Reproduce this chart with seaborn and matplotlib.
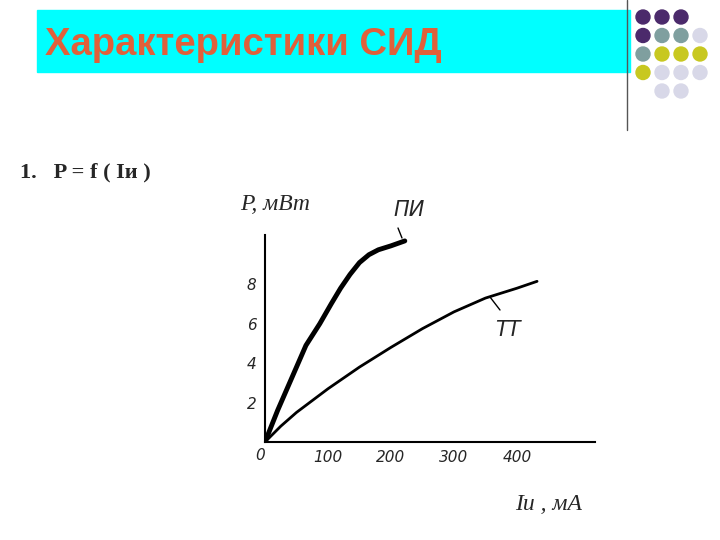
import matplotlib
matplotlib.use("Agg")
import matplotlib.pyplot as plt
import seaborn as sns
import pandas as pd
from matplotlib.patches import Rectangle, Circle

sns.set_style("white")
plt.rcParams['font.family'] = ['DejaVu Sans']

pi_I = [0, 10, 20, 35, 50, 65, 87, 105, 120, 135, 150, 165, 180, 200, 222]
pi_P = [0, 0.8, 1.6, 2.7, 3.8, 4.9, 6.0, 7.0, 7.8, 8.5, 9.1, 9.5, 9.75, 9.95, 10.2]
tt_I = [0, 25, 50, 75, 100, 150, 200, 250, 300, 350, 400, 432]
tt_P = [0, 0.8, 1.5, 2.1, 2.7, 3.8, 4.8, 5.75, 6.6, 7.3, 7.8, 8.15]
x_ticks = [100, 200, 300, 400]
x_labels = ["100", "200", "300", "400"]
y_ticks = [2, 4, 6, 8]
y_labels = ["2", "4", "6", "8"]

W, H = 720, 540
fig = plt.figure(figsize=(7.2, 5.4), dpi=100)
bg = fig.add_axes([0, 0, 1, 1])
bg.set_xlim(0, W); bg.set_ylim(H, 0); bg.axis("off")
bg.add_patch(Rectangle((37, 10), 593, 62, color="#00ffff"))
bg.text(45, 45, "Характеристики СИД", color="#e0603a", fontsize=27.5, fontweight="bold",
        family="Liberation Sans", va="center")
bg.plot([627, 627], [0, 130], color="#555555", lw=1)
grid = [["#4b2a6b", "#4b2a6b", "#4b2a6b", None],
        ["#4b2a6b", "#7f9f9f", "#7f9f9f", "#d8d8e8"],
        ["#7f9f9f", "#c8c820", "#c8c820", "#c8c820"],
        ["#c8c820", "#d8d8e8", "#d8d8e8", "#d8d8e8"],
        [None, "#d8d8e8", "#d8d8e8", None]]
for r, row in enumerate(grid):
    for c, col in enumerate(row):
        if col:
            bg.add_patch(Circle((643 + c * 19, 17 + r * 18.5), 7, color=col))
bg.text(20, 172, "1.   P = f ( Iи )", fontsize=16, fontweight="bold", family="Liberation Serif", va="center")
bg.text(240, 205, "P, мВт", fontsize=17, style="italic", family="Liberation Serif", va="center")
bg.text(393, 210, "ПИ", fontsize=15, style="italic", va="center")
bg.plot([398, 402], [228, 238], color="black", lw=1)
bg.text(495, 330, "ТТ", fontsize=15, style="italic", va="center")
bg.plot([490, 500], [297, 310], color="black", lw=1)
bg.text(515, 505, "Iи , мА", fontsize=17, style="italic", family="Liberation Serif", va="center")
bg.text(255, 455, "0", fontsize=11, style="italic", va="center")

ax = fig.add_axes([265 / W, (H - 442) / H, 330 / W, 207 / H])
ax.patch.set_alpha(0)
df1 = pd.DataFrame({"I": pi_I, "P": pi_P})
df2 = pd.DataFrame({"I": tt_I, "P": tt_P})
sns.lineplot(data=df1, x="I", y="P", ax=ax, color="black", lw=3.5)
sns.lineplot(data=df2, x="I", y="P", ax=ax, color="black", lw=2)
ax.set_xlim(0, 524); ax.set_ylim(0, 10.5)
ax.set_xticks(x_ticks); ax.set_xticklabels(x_labels, style="italic", fontsize=11)
ax.set_yticks(y_ticks); ax.set_yticklabels(y_labels, style="italic", fontsize=11)
ax.set_xlabel(""); ax.set_ylabel("")
for s in ["top", "right"]:
    ax.spines[s].set_visible(False)
for s in ["left", "bottom"]:
    ax.spines[s].set_linewidth(1.5); ax.spines[s].set_color("black")
ax.tick_params(length=5, width=1.2, color="black", direction="inout")
fig.savefig("out.png", dpi=100)
